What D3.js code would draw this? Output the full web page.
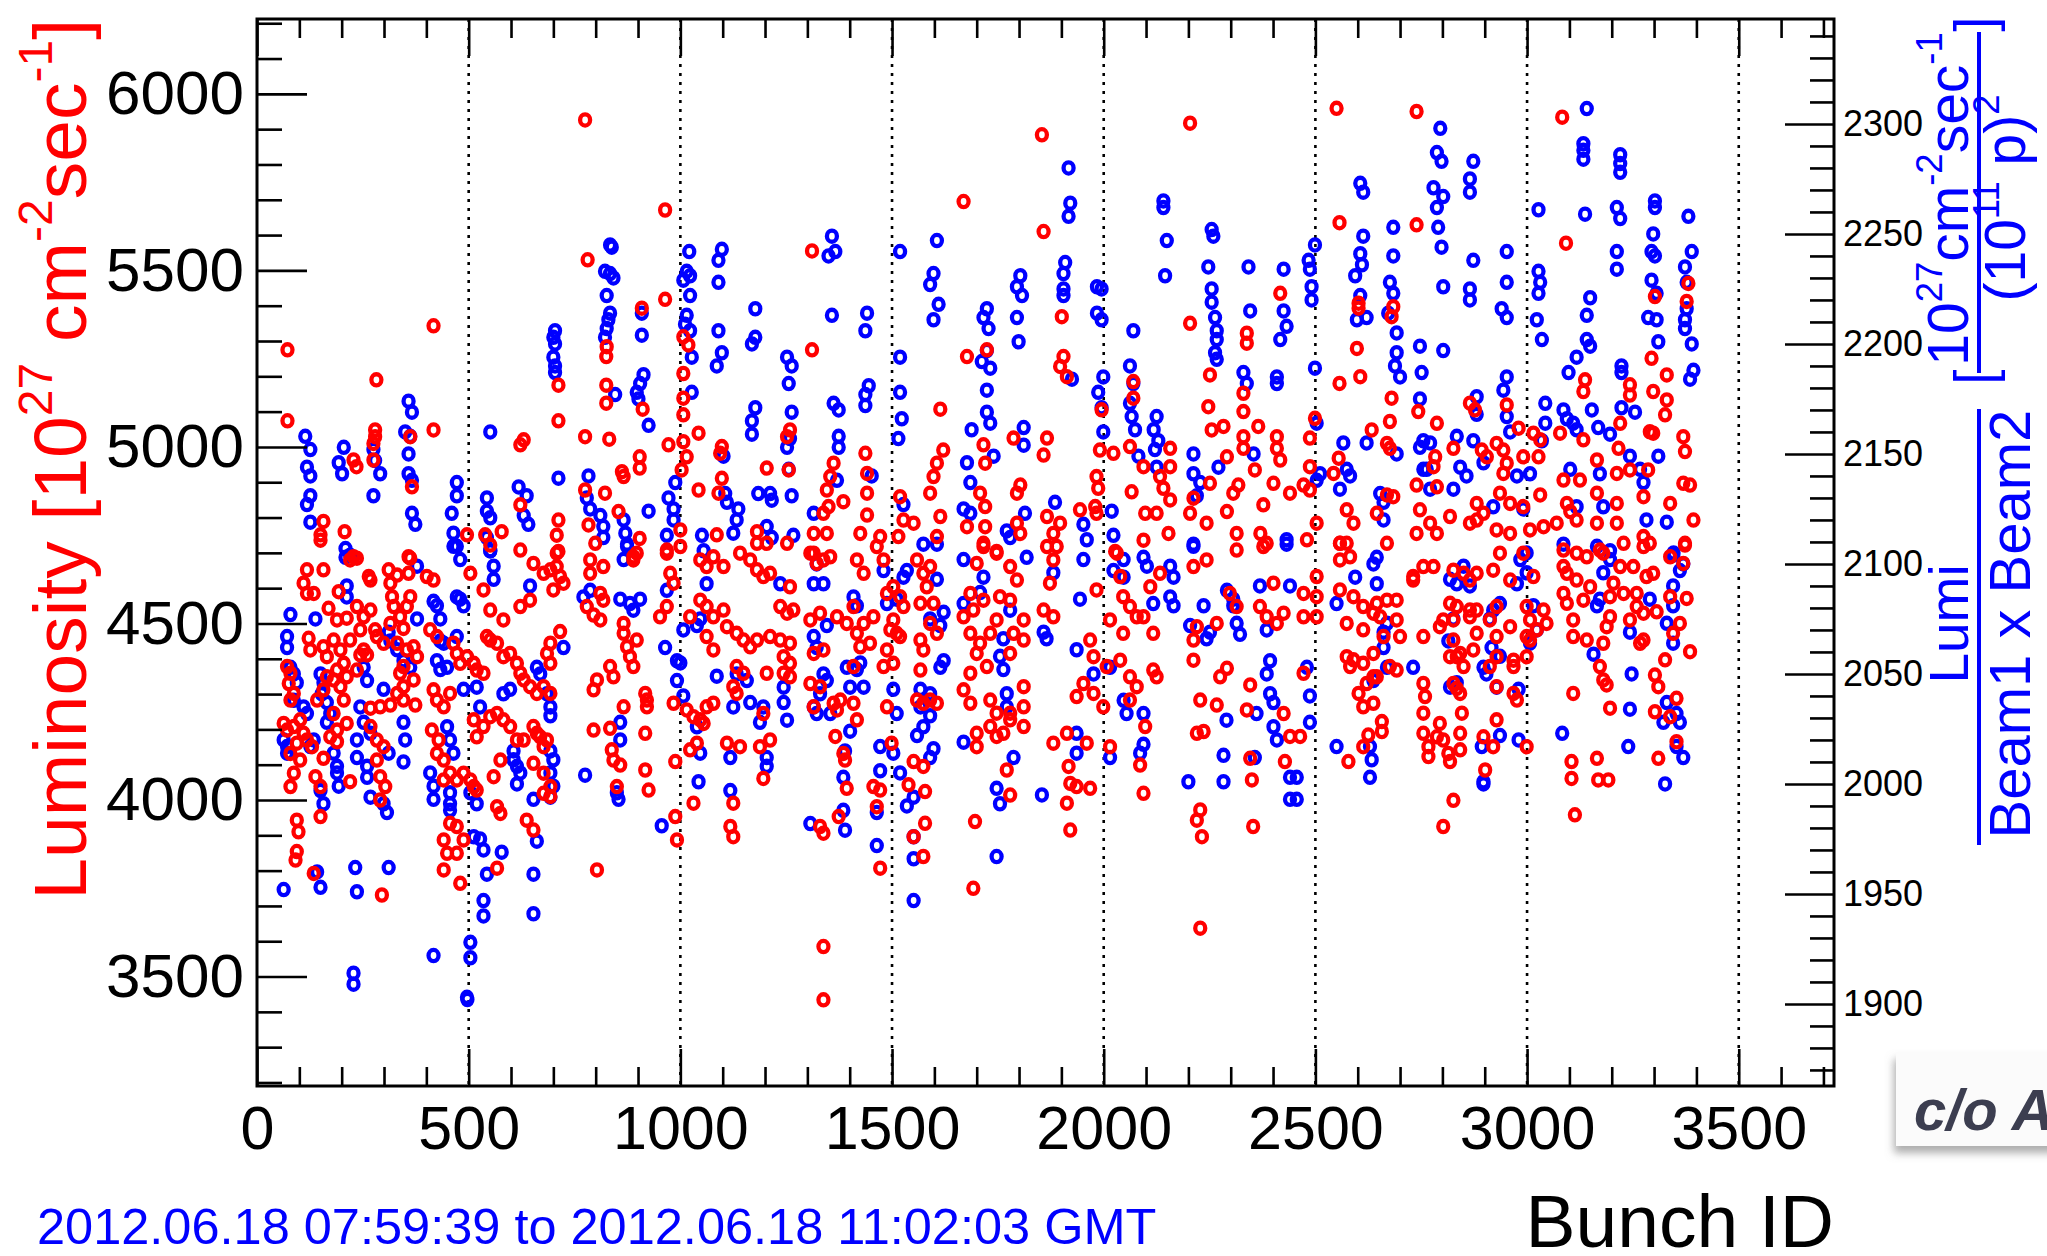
<!DOCTYPE html>
<html>
<head>
<meta charset="utf-8">
<script src="https://cdn.jsdelivr.net/npm/d3@7"></script>
<style>
  body { margin: 0; background: #fff; }
  text { font-family: "Liberation Sans", Arial, Helvetica, sans-serif; }
</style>
</head>
<body>
<div id="chart"></div>
<script>
// major tick values of the three axes
const bunchTicks = [0, 500, 1000, 1500, 2000, 2500, 3000, 3500];
const lumiTicks = [3500, 4000, 4500, 5000, 5500, 6000];
const specTicks = [1900, 1950, 2000, 2050, 2100, 2150, 2200, 2250, 2300];

// red: [bunch ID, luminosity]  (left axis)
const lumiPoints = [
  [775,5926],[964,5671],[72,5275],[417,5343],[781,5530],[964,5418],[282,5190],[72,5074],[417,5048],[279,5048],[279,5029],[275,5010],[275,4963],[228,4963],[235,4944],[362,5029],[366,4887],[712,5175],[712,5074],[775,5029],[826,5284],[825,5256],[825,5175],[825,5124],[832,5022],[909,5393],[911,5107],[904,4972],[904,4940],[862,4930],[866,4916],[854,4817],[1007,5312],[1019,5289],[1007,5208],[1007,5138],[1007,5091],[1043,5039],[1007,5015],[972,5006],[1015,4972],[1003,4935],[1043,4878],[1098,5001],[1094,4982],[1098,4911],[1090,4869],[1204,4940],[775,4878],[783,4779],[822,4869],[799,4727],[904,4741],[712,4793],[708,4750],[712,4704],[630,5020],[622,5006],[622,4836],[622,4708],[578,4760],[539,4751],[496,4751],[551,4722],[157,4789],[150,4751],[207,4760],[1181,4760],[1181,4727],[1204,4727],[1086,4751],[1000,4765],[1000,4718],[968,4708],[228,4689],[358,4689],[889,4689],
  [150,4736],[118,4652],[157,4652],[110,4614],[118,4585],[134,4585],[193,4590],[220,4680],[236,4685],[264,4633],[268,4623],[311,4652],[315,4614],[331,4637],[362,4685],[358,4642],[362,4576],[354,4548],[169,4543],[189,4510],[212,4515],[236,4548],[252,4519],[268,4538],[279,4482],[244,4482],[220,4453],[122,4458],[126,4425],[157,4434],[165,4406],[181,4453],[197,4425],[205,4387],[189,4368],[165,4349],[252,4425],[260,4411],[244,4411],[236,4368],[283,4463],[299,4444],[319,4576],[323,4548],[338,4519],[346,4486],[315,4500],[331,4444],[354,4425],[370,4434],[378,4406],[346,4378],[338,4359],[370,4340],[346,4321],[331,4302],[346,4283],[374,4269],[315,4269],[291,4264],[71,4378],[79,4359],[75,4330],[87,4302],[79,4283],[63,4217],[71,4198],[87,4208],[102,4227],[110,4189],[118,4170],[130,4151],[94,4161],[79,4132],[102,4113],[87,4076],[79,4038],[142,4283],[157,4312],[181,4340],[197,4321],[212,4349],[205,4283],[181,4245],[212,4217],[189,4198],[173,4179],[189,4165],[157,4118],[138,4066],[150,4038],[220,4052],[94,3943],[98,3910],[94,3854],[91,3830],[134,3792],[150,3953],[295,3731],[268,4260],[268,4208],[283,4170],[299,4151],[283,4113],[291,4066],[303,4038],[291,4000],
  [401,4633],[417,4623],[409,4482],[425,4463],[417,4312],[425,4283],[441,4264],[456,4302],[413,4198],[429,4170],[425,4132],[441,4113],[456,4076],[441,4057],[488,4076],[504,4057],[512,4038],[519,4028],[472,4057],[464,4444],[472,4415],[480,4387],[496,4406],[512,4387],[519,4368],[535,4359],[543,4463],[551,4453],[567,4444],[582,4406],[598,4415],[614,4387],[622,4359],[630,4340],[645,4321],[661,4302],[677,4321],[693,4302],[504,4642],[535,4595],[551,4538],[582,4510],[622,4548],[645,4566],[653,4670],[677,4642],[693,4652],[708,4661],[716,4633],[724,4614],[700,4595],[708,4699],[716,4477],[693,4444],[685,4415],[693,4387],[512,4227],[519,4179],[535,4208],[551,4236],[567,4245],[582,4227],[598,4208],[614,4170],[630,4170],[653,4208],[669,4179],[677,4151],[661,4189],[685,4170],[559,4066],[575,4113],[653,4104],[677,4076],[677,4019],[693,4038],[693,4010],[456,3934],[441,3887],[449,3849],[441,3802],[472,3849],[488,3887],[480,3764],[472,3925],[567,3807],[567,3981],[575,3962],[637,3943],[653,3915],
  [787,4642],[779,4548],[795,4524],[811,4510],[811,4585],[818,4566],[818,4661],[787,4680],[803,4340],[795,4312],[834,4378],[842,4349],[866,4264],[866,4472],[874,4434],[881,4406],[889,4378],[897,4453],[889,4680],[897,4699],[866,4500],[795,4198],[834,4203],[838,4142],[842,4113],[858,4099],[850,4038],[917,4302],[921,4283],[921,4264],[917,4189],[917,4085],[925,4028],[803,3802],[952,4519],[968,4548],[976,4642],[984,4614],[968,4699],[1023,4519],[984,4274],[1015,4255],[1031,4236],[1047,4227],[1055,4217],[1062,4264],[1078,4274],[988,4109],[1023,4142],[1039,4161],[988,3953],[992,3887],[1031,3991],[1047,4680],[1062,4661],[1078,4689],[1102,4661],[1141,4699],[1165,4680],[1181,4652],[1196,4633],[1212,4642],[1047,4566],[1062,4548],[1078,4519],[1102,4538],[1110,4491],[1133,4472],[1149,4453],[1165,4434],[1181,4453],[1212,4463],[1062,4463],[1078,4425],[1133,4378],[1149,4359],[1125,4321],[1133,4302],[1204,4359],[1196,4245],[1110,4161],[1141,4151],[1188,4151],[1212,4170],[1196,4061],[1118,3925],[1125,3896],[1125,3991],
  [1854,5884],[2204,5917],[1669,5695],[1858,5610],[1311,5555],[1311,5275],[1901,5369],[2204,5350],[1677,5256],[1724,5275],[1905,5256],[1897,5228],[1913,5199],[2417,5435],[2338,5322],[2338,5294],[2251,5204],[2247,5114],[2255,5048],[2283,5058],[2330,5152],[2330,5100],[2330,5029],[2330,4996],[2365,5058],[2357,4935],[2291,4972],[2251,4897],[2318,4892],[2306,4869],[2409,5029],[2409,4996],[2417,4963],[2401,4897],[2440,4869],[2377,4836],[2291,4817],[2314,4755],[2370,4755],[2385,4727],[2070,5185],[2070,5138],[2062,5001],[2094,4944],[2157,4996],[2157,4944],[2133,4916],[2141,4883],[2066,4873],[2098,4812],[2157,4850],[2125,4812],[2153,4755],[2212,4855],[2243,4784],[2204,4812],[2094,4736],[2023,4982],[1991,4991],[1995,5105],[1983,4916],[1987,4883],[1980,4831],[1944,4822],[1983,4812],[2027,4704],[1614,5107],[1621,4991],[1606,4954],[1598,4916],[1590,4869],[1614,4803],[1519,4859],[1527,4793],[1551,4784],[1515,4746],[1606,4746],[1716,5006],[1720,4954],[1708,4869],[1720,4831],[1720,4774],[1677,4774],[1716,4727],[1747,4704],[1787,5025],[1803,4892],[1795,4869],[1795,4784],[1803,4755],[1866,5025],[1858,4977],[1866,4803],[1897,4784],[1881,4755],[1866,4718],[1252,5029],[1259,5048],[1256,4935],[1362,4954],[1354,4916],[1346,4878],[1350,4831],[1385,4845],[1338,4812],[1346,4755],[1437,4982],[1441,4925],[1441,4869],[1441,4807],[1425,4755],[1472,4746],[1315,4755],[1252,4727],[1315,4699],
  [1338,3585],[1338,3434],[1472,3807],[1692,3750],[2228,3637],[1696,3939],[1921,3915],[1578,3934],[1574,3840],[1551,3896],[1330,3925],[1338,3906],[1374,3953],[1366,4180],[1385,4132],[1389,4113],[1393,4033],[1456,4038],[1472,4028],[1464,3981],[1499,4161],[1551,4109],[1574,4095],[1539,4043],[1578,4024],[1771,4085],[1779,4014],[1917,4095],[1921,4047],[1936,4038],[1968,4033],[1913,3991],[1881,4161],[1913,4189],[1960,4161],[2015,4151],[2086,4099],[2094,4019],[2228,3972],[2220,3943],[2232,3896],[2350,4057],[2353,3925],[2346,4118],[2428,4109],[2440,4180],[2220,4189],[2236,4194],[2228,4283],[2267,4269],[2338,4255],[2425,4245],[2275,4349],[2291,4373],[2346,4326],[2212,4396],[2212,4453],[2220,4491],[2267,4500],[2298,4585],[2314,4548],[2401,4614],[2385,4519],[2409,4500],[2425,4529],[2369,4548],[2212,4661],[2243,4680],[2314,4708],[2377,4718],
  [2094,4519],[2117,4472],[2110,4604],[2133,4642],[2046,4472],[2015,4510],[2046,4576],[2039,4633],[2062,4548],[2078,4519],[2031,4699],[1983,4595],[1968,4453],[1976,4406],[2007,4378],[2039,4396],[2062,4349],[2078,4321],[2062,4283],[1999,4264],[1976,4302],[1952,4330],[1936,4293],[2117,4368],[2125,4349],[2098,4208],[1873,4614],[1881,4519],[1858,4538],[1881,4680],[1889,4718],[1795,4623],[1779,4566],[1811,4510],[1787,4472],[1811,4453],[1779,4415],[1747,4510],[1732,4472],[1755,4576],[1716,4566],[1692,4538],[1669,4519],[1685,4472],[1708,4444],[1700,4415],[1724,4378],[1685,4359],[1669,4312],[1685,4274],[1732,4283],[1747,4246],[1779,4246],[1811,4264],[1811,4208],[1732,4208],[1747,4180],[1763,4189],[1700,4189],[1700,4151],[1779,4227],[1685,4585],[1700,4670],[1747,4699],[1779,4661],[1716,4718],[1811,4321],
  [1559,4680],[1574,4642],[1590,4661],[1582,4604],[1598,4557],[1567,4557],[1590,4500],[1606,4472],[1567,4453],[1574,4425],[1567,4368],[1559,4283],[1574,4274],[1590,4283],[1606,4274],[1488,4585],[1503,4604],[1519,4576],[1527,4548],[1503,4510],[1496,4482],[1519,4463],[1488,4425],[1503,4387],[1480,4378],[1488,4264],[1511,4472],[1417,4680],[1433,4642],[1409,4548],[1433,4500],[1417,4472],[1409,4378],[1393,4500],[1370,4519],[1456,4519],[1448,4444],[1425,4434],[1480,4680],[1464,4718],[1307,4699],[1322,4670],[1338,4680],[1354,4689],[1259,4604],[1236,4548],[1252,4529],[1267,4538],[1236,4453],[1259,4444],[1244,4406],[1259,4387],[1244,4359],[1259,4349],[1307,4510],[1330,4529],[1315,4415],[1338,4425],[1307,4330],[1330,4321],[1315,4264],[1362,4274],[1378,4283],[1409,4274],[1417,4227],[1370,4255],
  [2550,5959],[2739,5950],[2557,5635],[2739,5629],[3083,5934],[3092,5577],[2598,5279],[2557,5180],[2606,5199],[2602,5407],[2602,5393],[2684,5397],[2680,5369],[2680,5138],[2676,5072],[2633,5048],[2499,5081],[2487,5025],[2669,5010],[2676,4996],[2743,5100],[2787,5067],[2865,5124],[2877,5105],[2952,5119],[2980,5053],[2893,4991],[2905,4972],[2826,4996],[2783,4972],[2779,4944],[2739,4892],[2787,4887],[2555,4968],[2543,4925],[2487,4944],[2472,4892],[2487,4878],[2928,5010],[2944,4991],[2952,4954],[2944,4925],[2991,4972],[3015,5039],[3031,5020],[3027,4972],[3078,5039],[3133,5020],[3125,4906],[3086,4906],[3165,4963],[3137,5190],[3133,5157],[3243,5176],[3243,5147],[3294,5251],[3330,5204],[3298,5157],[3330,5133],[3326,5091],[3220,5067],[3290,5043],[3298,5039],[3216,4996],[3369,5029],[3373,4987],[3302,5426],[3381,5463],[3377,5412],[3286,4935],[3212,4925],[3243,4935],[3369,4897],[3385,4892],[3031,4864],[2960,4840],[2991,4831],[2936,4869],[2897,4812],[2881,4840],[3102,4817],[3165,4869],[3212,4840],[3275,4859],[3338,4840],[3393,4793],[3373,4727],[2669,4864],[2684,4859],[2645,4812],[2574,4822],[2590,4784],[2558,4727],[2503,4784],[2480,4737],[2747,4822],[2771,4784],[2787,4755],[2739,4755],[2818,4803],[2865,4784],[2881,4793],[2928,4765],[2960,4755],[3007,4765],[3039,4774],[3070,4784],[3094,4840],[3117,4793],[3165,4784],[3212,4784],[3275,4746],[3290,4727],[3228,4727],[3172,4708],[3086,4708],[2991,4699],
  [2802,3925],[2826,3999],[3113,3958],[3105,4109],[3105,4061],[3165,4118],[3168,4057],[3192,4057],[2578,4109],[2613,4151],[2625,4184],[2657,4222],[2657,4194],[2613,4264],[2637,4274],[2602,4302],[2645,4349],[2621,4330],[2574,4406],[2582,4378],[2613,4387],[2637,4415],[2755,4330],[2759,4293],[2755,4246],[2755,4189],[2767,4151],[2767,4123],[2787,4179],[2802,4170],[2814,4132],[2818,4109],[2842,4189],[2842,4142],[2846,4246],[2794,4217],[2834,4316],[2842,4302],[2826,4330],[2834,4406],[2850,4378],[2897,4179],[2920,4151],[2928,4227],[2901,4085],[2912,4378],[2928,4321],[2968,4302],[2968,4396],[2976,4283],[2999,4151],[3302,4354],[3310,4321],[3196,4260],[3302,4250],[3353,4288],[3338,4236],[3353,4165],[3310,4118],[3326,4397],[3385,4420],[3172,4378],[3180,4340],[3188,4326],[3275,4453],[3267,4444],[3109,4302],[3109,4463],[3141,4453],[3180,4444],[3109,4510],[3196,4519],[3188,4491],[3243,4510],[3275,4529],[3259,4548],[3306,4533],[3338,4576],[3377,4571],[3361,4500],[3345,4472],
  [3086,4585],[3094,4557],[3133,4566],[3149,4604],[3196,4576],[3228,4585],[3259,4585],[3204,4614],[3086,4661],[3094,4642],[3117,4623],[3117,4699],[3141,4689],[3180,4699],[3220,4661],[3251,4661],[3282,4633],[3298,4642],[3338,4689],[3369,4670],[3373,4722],[3275,4718],[2999,4548],[3007,4510],[3023,4482],[2999,4463],[3039,4538],[3046,4500],[3007,4453],[3015,4633],[2999,4406],[2968,4378],[2928,4406],[2960,4491],[2928,4463],[2881,4472],[2865,4538],[2834,4548],[2818,4557],[2794,4491],[2802,4510],[2826,4510],[2865,4519],[2881,4538],[2912,4510],[2928,4548],[2873,4425],[2842,4415],[2818,4406],[2826,4453],[2850,4642],[2865,4623],[2881,4642],[2826,4651],[2920,4651],[2936,4699],[2960,4623],[2755,4661],[2779,4661],[2731,4623],[2692,4566],[2669,4566],[2645,4557],[2637,4529],[2653,4519],[2692,4510],[2700,4463],[2661,4463],[2692,4368],[2676,4378],[2637,4349],[2558,4595],[2558,4680],[2582,4689],[2574,4727],[2590,4576],[2574,4500],[2613,4482],[2503,4633],[2503,4576],[2503,4519],[2472,4585],[2472,4519],[2472,4359],[2464,4180],[2558,4727],[2669,4727],[2731,4633],[2755,4463],[2613,4548],[2590,4397]
];

// blue: [bunch ID, Lumi / (Beam1 x Beam2)]  (right axis)
const specPoints = [
  [834,2245],[838,2244],[822,2233],[834,2232],[842,2230],[826,2222],[834,2214],[830,2211],[826,2207],[822,2203],[1021,2242],[1015,2233],[1023,2231],[1007,2229],[1023,2222],[1015,2213],[1011,2209],[1023,2206],[1027,2194],[1027,2178],[1098,2243],[1090,2238],[1090,2228],[1090,2206],[1098,2196],[1086,2190],[1177,2216],[1177,2203],[1169,2200],[1177,2171],[1169,2165],[1169,2159],[704,2206],[700,2203],[704,2200],[700,2194],[704,2190],[704,2187],[909,2214],[909,2204],[913,2186],[905,2182],[897,2178],[901,2175],[925,2163],[846,2177],[358,2174],[366,2169],[350,2160],[362,2158],[358,2150],[358,2141],[366,2138],[366,2123],[374,2118],[114,2158],[126,2152],[118,2144],[126,2140],[126,2131],[118,2127],[126,2119],[205,2153],[193,2146],[201,2141],[275,2152],[279,2147],[291,2141],[275,2131],[472,2137],[472,2131],[460,2123],[464,2114],[464,2108],[551,2160],[543,2130],[543,2124],[551,2121],[543,2112],[551,2106],[618,2135],[637,2131],[630,2122],[641,2118],[712,2139],[783,2140],[779,2130],[787,2125],[811,2122],[818,2117],[818,2112],[866,2120],[870,2114],[874,2109],[925,2124],[988,2137],[972,2130],[984,2125],[984,2120],[968,2113],[1051,2113],[1055,2106],[1102,2149],[1106,2132],[1110,2128],[1137,2125],[1133,2120],[1125,2114],[1184,2132],[1212,2132],[1216,2129],[1204,2117],[1216,2112],[209,2107],[220,2104],
  [209,2103],[212,2090],[212,2085],[138,2075],[79,2077],[71,2067],[71,2062],[79,2053],[87,2050],[94,2046],[87,2038],[110,2035],[118,2032],[63,2020],[71,2017],[71,2014],[126,2017],[134,2020],[150,2050],[157,2046],[153,2041],[165,2037],[173,2032],[165,2028],[181,2014],[189,2008],[189,2005],[193,1999],[150,1997],[157,1991],[142,1960],[150,1953],[63,1952],[236,2020],[236,2012],[260,2008],[260,2003],[268,1994],[299,1991],[307,1987],[311,2014],[299,2043],[252,2053],[260,2047],[244,2035],[252,2028],[268,2023],[232,1962],[236,1951],[311,1962],[228,1914],[228,1909],[311,2069],[315,2065],[331,2061],[346,2056],[362,2053],[378,2099],[378,2075],[346,2028],[350,2020],[346,2010],[417,2083],[425,2081],[433,2075],[433,2065],[441,2064],[425,2056],[433,2052],[449,2053],[472,2085],[480,2084],[472,2067],[488,2081],[409,2005],[417,1999],[417,1993],[456,1996],[456,1991],[456,1988],[449,2026],[456,2020],[464,2014],[472,2108],[480,2102],[488,2043],[519,2044],[527,2035],[504,1996],[519,1991],[512,1976],[527,1975],[535,1970],[543,1959],[578,1969],[535,1947],[535,1940],[653,1959],[661,1974],[653,1941],[504,1928],[504,1921],[417,1922],[496,1903],[497,1902],
  [551,2106],[559,2099],[559,2093],[582,2041],[598,2043],[606,2015],[614,2008],[614,2000],[622,2005],[606,2011],[693,2015],[700,2011],[693,2005],[700,1999],[693,1994],[669,2050],[661,2053],[685,2041],[693,2035],[693,2031],[653,1993],[645,2090],[724,2062],[775,2004],[787,2088],[771,2085],[866,2102],[874,2108],[881,2082],[889,2079],[905,2084],[858,2084],[858,2028],[858,2020],[850,1996],[854,1993],[964,2062],[968,2088],[992,2056],[1000,2055],[1007,2070],[992,2047],[1007,2040],[1039,2072],[1047,2075],[1039,2026],[1047,2014],[1043,2001],[956,1981],[1062,2091],[1086,2049],[1133,2050],[1125,2035],[1165,2037],[1196,2035],[1188,2028],[1204,2012],[1204,2008],[1118,2012],[1118,1997],[1157,2047],
  [1917,2280],[1921,2264],[1917,2258],[2141,2265],[2141,2262],[2149,2247],[2145,2231],[2255,2252],[2259,2249],[2247,2235],[2255,2225],[2255,2219],[2263,2212],[2267,2206],[2267,2202],[2263,2196],[2267,2193],[1358,2249],[1366,2242],[1350,2240],[1358,2213],[1252,2194],[1263,2190],[1256,2182],[1263,2169],[1259,2157],[1252,2153],[1256,2143],[1263,2131],[1362,2173],[1374,2170],[1374,2158],[1374,2153],[1370,2138],[1315,2123],[1267,2113],[1441,2214],[1437,2206],[1445,2181],[1437,2177],[1437,2172],[1452,2140],[1519,2242],[1519,2194],[1519,2178],[1523,2166],[1515,2157],[1527,2127],[1606,2247],[1598,2232],[1590,2227],[1610,2218],[1598,2211],[1724,2216],[1716,2212],[1728,2207],[1724,2197],[1712,2192],[1732,2189],[1724,2179],[1724,2169],[1732,2164],[1688,2161],[1740,2149],[1677,2146],[1685,2137],[1669,2125],[1685,2123],[1803,2231],[1795,2226],[1807,2222],[1795,2212],[1799,2201],[1811,2162],[1811,2154],[1814,2123],[1909,2237],[1905,2232],[1905,2225],[1905,2222],[1925,2184],[1885,2128],[1984,2226],[1995,2225],[1984,2214],[1995,2211],[1999,2185],[1987,2178],[1995,2171],[1999,2160],[2070,2206],[2062,2190],[2070,2182],[2062,2173],[2066,2167],[2074,2161],[2082,2149],[2125,2167],[2118,2161],[2129,2156],[2121,2152],[2125,2144],[2212,2150],[2212,2141],[2228,2137],[2220,2131],[2271,2144],[2342,2235],[2346,2215],[2330,2187],[2338,2182],[2354,2150],[2425,2234],[2425,2215],[2432,2208],[2417,2202],[2409,2185],[2409,2182],[2432,2111],[2019,2124],[2023,2113],[1952,2118],[1960,2111],[2212,2109],[1574,2109],[1771,2115],[1779,2112],
  [1551,1947],[1464,1972],[1551,1966],[1551,1976],[1747,1967],[1307,1982],[1389,1979],[1385,1988],[1385,2003],[1389,2015],[1401,2024],[1472,2006],[1464,1987],[1519,2005],[1535,1990],[1551,1994],[1503,2014],[1472,2017],[1559,2022],[1574,2026],[1590,2031],[1567,2035],[1590,2041],[1567,2043],[1598,2016],[1590,2012],[1511,2032],[1503,2043],[1614,2053],[1622,2056],[1669,2019],[1747,1998],[1755,1991],[1787,2012],[1854,1995],[1936,2023],[1936,2014],[2015,2012],[2086,2014],[2094,2018],[2200,2001],[2283,2001],[2283,2013],[2357,2012],[2440,2003],[2440,1993],[2290,2029],[2409,2020],[2401,2026],[2393,2041],[2401,2037],[2361,2032],[2054,2032],[2094,2032],[2047,2038],[2015,2053],[1976,2050],[1936,2061],[1944,2084],[1952,2102],[1881,2096],[1865,2066],[1858,2069],[1779,2079],[1763,2066],[1755,2058],[1763,2052],[1771,2041],[1771,2035],[1669,2082],[1708,2087],[1716,2094],[1669,2102],[1818,2103],[1606,2109],[1527,2094],[1535,2097],[1606,2093],[1622,2078],[1614,2072],[1590,2075],[1488,2082],[1480,2097],[1511,2084],[1417,2081],[1409,2085],[1346,2072],[1346,2047],[1338,2050],[1330,2041],[1315,2035],[1322,2032],[1354,2032],[1401,2044],[1433,2044],[1417,2052],[1425,2055],[1393,2053],[1244,2044],[1244,2037],[1252,2029],[1236,2091],[1315,2091],[1338,2091],[1322,2100],[1315,2067],[1322,2062],[2212,2108],[2236,2081],[2204,2072],[2243,2066],[2251,2069],[2291,2088],[2306,2081],[2314,2073],[2322,2068],[2306,2084],[2369,2090],[2385,2070],[2393,2056],[2385,2050],[2440,2090],[2432,2109],[2157,2099],[2165,2094],[2165,2081],[2157,2085],[2117,2082],[2102,2099],[2094,2103],[2047,2102],[2023,2097],[2047,2094],
  [3141,2307],[3133,2291],[3133,2288],[3133,2284],[3220,2286],[3220,2282],[3220,2278],[3137,2259],[3212,2262],[3220,2257],[3212,2242],[3212,2234],[3302,2265],[3302,2262],[3298,2250],[3294,2242],[3302,2240],[3294,2229],[3306,2223],[3286,2212],[3306,2211],[3310,2201],[3381,2258],[3389,2242],[3373,2235],[3377,2228],[3377,2216],[3373,2211],[3373,2207],[3389,2200],[3393,2188],[3385,2184],[3149,2221],[3141,2213],[3141,2202],[3149,2199],[3117,2194],[3098,2187],[3223,2190],[3223,2187],[3153,2170],[3223,2171],[3255,2169],[3168,2162],[3196,2159],[3086,2170],[3094,2166],[3109,2164],[3117,2161],[3043,2173],[3043,2164],[3035,2156],[3027,2261],[3027,2233],[3031,2228],[3027,2223],[3023,2211],[3035,2202],[2952,2242],[2952,2228],[2940,2216],[2952,2212],[2952,2185],[2944,2179],[2952,2167],[2960,2160],[2873,2283],[2865,2275],[2865,2269],[2873,2238],[2865,2225],[2865,2220],[2881,2176],[2881,2168],[2795,2298],[2787,2287],[2798,2283],[2779,2271],[2802,2267],[2787,2262],[2790,2253],[2798,2244],[2802,2226],[2802,2197],[2747,2199],[2751,2187],[2747,2175],[2755,2156],[2747,2153],[2771,2155],[2763,2143],[2692,2150],[2606,2273],[2613,2269],[2613,2249],[2606,2241],[2610,2236],[2594,2231],[2606,2222],[2598,2211],[2621,2212],[2684,2253],[2684,2240],[2676,2228],[2684,2223],[2672,2214],[2692,2205],[2692,2196],[2688,2190],[2700,2185],[2499,2245],[2484,2238],[2487,2234],[2491,2226],[2491,2220],[2499,2189],[2503,2164],[2566,2155],[2574,2143],[2558,2134],[2621,2155],[2653,2132],[2661,2128],[2511,2141],[2503,2138],[2834,2158],[2873,2156],[2842,2144],[2857,2140],[2826,2134],[2920,2126],[2976,2140],[3007,2141],[2991,2125],[3102,2143],[3117,2126],[3172,2141],[3180,2126],[3243,2149],[3267,2143],[3275,2137],[3282,2120],[3310,2149],[3330,2119],[3346,2105],[2755,2143],[2771,2134],[2661,2120],[2582,2140],[2897,2146],
  [3326,2000],[3369,2012],[3353,2017],[3239,2017],[3243,2034],[3247,2050],[3353,2032],[3361,2028],[3330,2037],[3322,2028],[3083,2023],[2936,2022],[2893,2017],[2897,2001],[2897,2000],[2980,2020],[2980,2043],[2928,2044],[2904,2050],[2897,2053],[2916,2062],[2936,2058],[2912,2075],[2920,2079],[2936,2082],[2818,2044],[2834,2046],[2814,2065],[2826,2075],[2834,2091],[2850,2099],[2865,2090],[2818,2093],[2731,2053],[2669,2053],[2637,2047],[2629,2017],[2633,2011],[2629,2003],[2550,2017],[2550,2082],[2594,2094],[2645,2103],[2637,2100],[2645,2091],[2669,2073],[2661,2069],[2661,2062],[2487,2040],[2480,2053],[2487,2028],[2456,2003],[2456,1993],[2984,2102],[2999,2096],[3015,2081],[3023,2070],[3007,2064],[2999,2105],[2976,2091],[3157,2059],[3165,2081],[3172,2084],[3180,2096],[3196,2102],[3243,2069],[3290,2084],[3330,2073],[3345,2064],[3345,2090],[3361,2097],[3345,2104],[3369,2100],[3345,2081],[3086,2109],[3165,2108],[3196,2106]
];

const width = 2047, height = 1256;
const plot = {left: 257, right: 1834, top: 19, bottom: 1086};

const svg = d3.select('#chart')
  .append('svg')
    .attr('width', width)
    .attr('height', height)
    .attr('viewBox', [0, 0, width, height]);

const xScale = d3.scaleLinear().domain([0, 3725]).range([plot.left, plot.right]);
const yLumi = d3.scaleLinear().domain([3190, 6212]).range([plot.bottom, plot.top]);
const ySpec = d3.scaleLinear().domain([1862.7, 2347.7]).range([plot.bottom, plot.top]);

// dotted vertical grid at the major bunch ticks
svg.append('g')
  .selectAll('line')
  .data(bunchTicks.filter(d => d > 0))
  .join('line')
    .attr('x1', d => xScale(d)).attr('x2', d => xScale(d))
    .attr('y1', plot.top).attr('y2', plot.bottom)
    .attr('stroke', '#000')
    .attr('stroke-width', 2.6)
    .attr('stroke-dasharray', '3 6');

// thick open markers, slightly taller than wide like the ROOT export; blue first, red over it
function drawMarkers(points, yScale, color) {
  svg.append('g')
    .attr('fill', 'none')
    .attr('stroke', color)
    .attr('stroke-width', 4.3)
    .selectAll('ellipse')
    .data(points)
    .join('ellipse')
      .attr('cx', d => xScale(d[0]))
      .attr('cy', d => yScale(d[1]))
      .attr('rx', 5)
      .attr('ry', 5.6);
}
drawMarkers(specPoints, ySpec, '#0000ff');
drawMarkers(lumiPoints, yLumi, '#ff0000');

// axes (ticks point inwards, ROOT style)
const xMinor = d3.range(100, 3725, 100).filter(d => d % 500 !== 0);
const lumiMinor = d3.range(3200, 6212, 100).filter(d => d % 500 !== 0);
const specMinor = d3.range(1870, 2347, 10).filter(d => d % 50 !== 0);

function styleAxis(g, fontSize) {
  g.select('.domain').remove();
  g.selectAll('.tick line').attr('stroke', '#000').attr('stroke-width', 2.6);
  g.selectAll('text').attr('fill', '#000').attr('font-size', fontSize)
    .attr('font-family', '"Liberation Sans", Arial, sans-serif');
}

svg.append('g')
  .attr('transform', `translate(0,${plot.bottom})`)
  .call(d3.axisBottom(xScale).tickValues(bunchTicks).tickSize(-37).tickPadding(20).tickFormat(d3.format('d')))
  .call(g => styleAxis(g, 61));
svg.append('g')
  .attr('transform', `translate(0,${plot.bottom})`)
  .call(d3.axisBottom(xScale).tickValues(xMinor).tickSize(-19).tickFormat(''))
  .call(g => styleAxis(g, 0));
svg.append('g')
  .attr('transform', `translate(0,${plot.top})`)
  .call(d3.axisTop(xScale).tickValues(bunchTicks).tickSize(-37).tickFormat(''))
  .call(g => styleAxis(g, 0));
svg.append('g')
  .attr('transform', `translate(0,${plot.top})`)
  .call(d3.axisTop(xScale).tickValues(xMinor).tickSize(-19).tickFormat(''))
  .call(g => styleAxis(g, 0));

svg.append('g')
  .attr('transform', `translate(${plot.left},0)`)
  .call(d3.axisLeft(yLumi).tickValues(lumiTicks).tickSize(-50).tickPadding(13).tickFormat(d3.format('d')))
  .call(g => styleAxis(g, 62));
svg.append('g')
  .attr('transform', `translate(${plot.left},0)`)
  .call(d3.axisLeft(yLumi).tickValues(lumiMinor).tickSize(-25).tickFormat(''))
  .call(g => styleAxis(g, 0));

svg.append('g')
  .attr('transform', `translate(${plot.right},0)`)
  .call(d3.axisRight(ySpec).tickValues(specTicks).tickSize(-49).tickPadding(9).tickFormat(d3.format('d')))
  .call(g => styleAxis(g, 36));
svg.append('g')
  .attr('transform', `translate(${plot.right},0)`)
  .call(d3.axisRight(ySpec).tickValues(specMinor).tickSize(-24).tickFormat(''))
  .call(g => styleAxis(g, 0));

// frame
svg.append('rect')
  .attr('x', plot.left).attr('y', plot.top)
  .attr('width', plot.right - plot.left).attr('height', plot.bottom - plot.top)
  .attr('fill', 'none').attr('stroke', '#000').attr('stroke-width', 3);

// text with superscripts: parts = [[text, isSup], ...]
function richText(sel, parts, fs) {
  const supFs = fs * 0.64, raise = fs * 0.46;
  let up = false;
  parts.forEach(([t, sup]) => {
    const ts = sel.append('tspan').text(t).attr('font-size', sup ? supFs : fs);
    if (sup && !up) { ts.attr('dy', -raise); up = true; }
    else if (!sup && up) { ts.attr('dy', raise); up = false; }
  });
  return sel;
}

// left axis title
svg.append('text')
  .attr('transform', 'translate(86,19) rotate(-90)')
  .attr('text-anchor', 'end')
  .attr('fill', '#ff0000')
  .call(s => richText(s, [['Luminosity [10'], ['27', true], [' cm'], ['-2', true], ['sec'], ['-1', true], [']']], 75));

// right axis title
const rt = svg.append('g')
  .attr('transform', 'translate(1979,0) rotate(-90)')
  .attr('fill', '#0000ff');
rt.append('line').attr('x1', -845).attr('x2', -409).attr('y1', 0).attr('y2', 0)
  .attr('stroke', '#0000ff').attr('stroke-width', 4);
rt.append('line').attr('x1', -373).attr('x2', -32).attr('y1', 0).attr('y2', 0)
  .attr('stroke', '#0000ff').attr('stroke-width', 4);
rt.append('text').attr('x', -624).attr('y', -11).attr('text-anchor', 'middle')
  .attr('font-size', 55).text('Lumi');
rt.append('text').attr('x', -624).attr('y', 51).attr('text-anchor', 'middle')
  .attr('font-size', 58).text('Beam1 x Beam2');
rt.append('text').attr('x', -199).attr('y', -11).attr('text-anchor', 'middle')
  .call(s => richText(s, [['10'], ['27', true], ['cm'], ['-2', true], ['sec'], ['-1', true]], 57));
rt.append('text').attr('x', -198).attr('y', 46).attr('text-anchor', 'middle')
  .call(s => richText(s, [['(10'], ['11', true], [' p)'], ['2', true]], 57));
rt.append('text').attr('x', -377).attr('y', 14).attr('text-anchor', 'middle')
  .attr('font-size', 55).text('[');
rt.append('text').attr('x', -24).attr('y', 14).attr('text-anchor', 'middle')
  .attr('font-size', 55).text(']');

// x title and time range
svg.append('text')
  .attr('x', plot.right).attr('y', 1247)
  .attr('text-anchor', 'end')
  .attr('font-size', 75)
  .attr('fill', '#000')
  .text('Bunch ID');
svg.append('text')
  .attr('x', 37).attr('y', 1244)
  .attr('font-size', 50.5)
  .attr('fill', '#0000ff')
  .text('2012.06.18 07:59:39 to 2012.06.18 11:02:03 GMT');

// "c/o A" tag, cut at the right edge as in the source slide
const defs = svg.append('defs');
const f = defs.append('filter').attr('id', 'shadow').attr('x', '-20%').attr('y', '-20%')
  .attr('width', '150%').attr('height', '160%');
f.append('feDropShadow').attr('dx', -2).attr('dy', 7).attr('stdDeviation', 4)
  .attr('flood-color', '#777').attr('flood-opacity', 0.6);
svg.append('rect')
  .attr('x', 1896).attr('y', 1052).attr('width', 170).attr('height', 94)
  .attr('fill', '#fbfbfb').attr('filter', 'url(#shadow)');
svg.append('text')
  .attr('x', 1914).attr('y', 1130)
  .attr('font-size', 58).attr('font-weight', 'bold').attr('font-style', 'italic')
  .attr('fill', '#3c3e50')
  .text('c/o A');
</script>
</body>
</html>
